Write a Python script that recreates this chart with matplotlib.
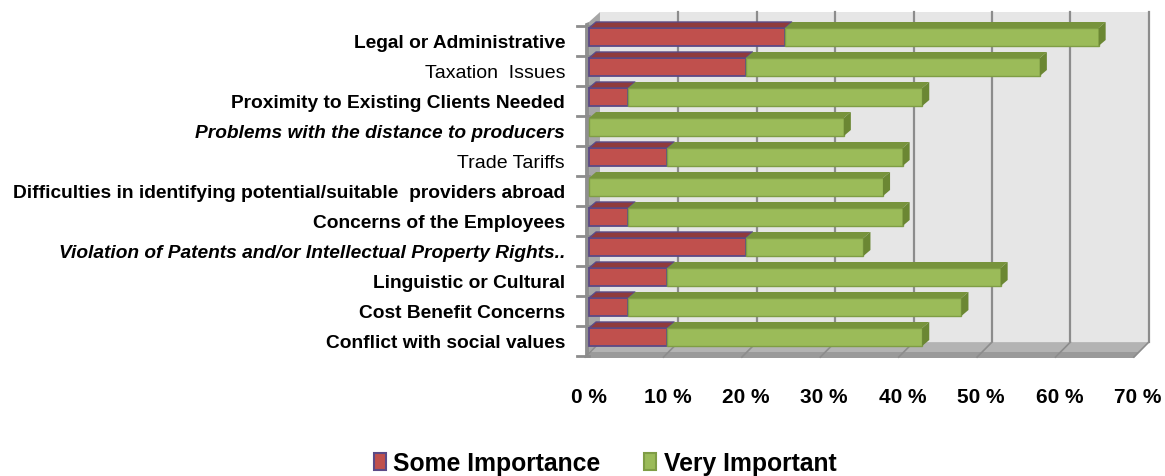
import matplotlib
matplotlib.use('Agg')
import matplotlib.pyplot as plt
from matplotlib.patches import Polygon, Patch

categories = ['Legal or Administrative', 'Taxation  Issues', 'Proximity to Existing Clients Needed',
              'Problems with the distance to producers', 'Trade Tariffs',
              'Difficulties in identifying potential/suitable  providers abroad',
              'Concerns of the Employees', 'Violation of Patents and/or Intellectual Property Rights..',
              'Linguistic or Cultural', 'Cost Benefit Concerns', 'Conflict with social values']
some_importance = [25, 20, 5, 0, 10, 0, 5, 20, 10, 5, 10]
very_important = [40, 37.5, 37.5, 32.5, 30, 37.5, 35, 15, 42.5, 42.5, 32.5]
xticks = [0, 10, 20, 30, 40, 50, 60, 70]
xticklabels = ['0 %', '10 %', '20 %', '30 %', '40 %', '50 %', '60 %', '70 %']

# labels that come out heavy / slanted
heavy = [0, 2, 3, 5, 6, 7, 8, 9, 10]
slanted = [3, 7]

W, H = 1165, 477
fig = plt.figure(figsize=(W / 100, H / 100), dpi=100)

# pixel mapping: x=0 at 589px, 7.84 px per %, row i centre at 38+30i px
px_per = 7.84
x0px, y0px, rowpx = 589, 38, 30
xl = (-2, 72)
yl = (10.9, -0.9)
left = (x0px + xl[0] * px_per) / W
right = (x0px + xl[1] * px_per) / W
top = (y0px + yl[1] * rowpx) / H
bot = (y0px + yl[0] * rowpx) / H
ax = fig.add_axes([left, 1 - bot, right - left, bot - top])
ax.set_xlim(*xl)
ax.set_ylim(*yl)
ax.axis('off')

n = len(categories)
wdx, wdy = 1.4, 0.33   # wall depth
bdx, bdy = 0.9, 0.2    # bar depth
ytop, ybot = -0.5, n - 0.5
xmax = xticks[-1]

# back wall
ax.add_patch(Polygon([(wdx, ytop - wdy), (xmax + wdx, ytop - wdy), (xmax + wdx, ybot - wdy), (wdx, ybot - wdy)],
                     closed=True, fc='#e6e6e6', ec='none', zorder=0))
for t in xticks[1:]:
    ax.plot([t + wdx, t + wdx], [ytop - wdy, ybot - wdy], color='#8c8c8c', lw=1.6, zorder=1)
# left wall
ax.add_patch(Polygon([(0, ytop), (wdx, ytop - wdy), (wdx, ybot - wdy), (0, ybot)],
                     closed=True, fc='#a6a6a6', ec='none', zorder=1))
ax.add_patch(Polygon([(-0.5, ytop + 0.05), (0, ytop), (0, ybot + 0.12), (-0.5, ybot + 0.15)],
                     closed=True, fc='#8f8f8f', ec='none', zorder=1))
# floor
ax.add_patch(Polygon([(0, ybot), (xmax, ybot), (xmax + wdx, ybot - wdy), (wdx, ybot - wdy)],
                     closed=True, fc='#b3b3b3', ec='none', zorder=1))
ax.add_patch(Polygon([(-0.5, ybot + 0.2), (xmax - 0.5, ybot + 0.2), (xmax + wdx, ybot - wdy),
                      (xmax, ybot), (0, ybot)],
                     closed=True, fc='#9a9a9a', ec='none', zorder=1))
for t in xticks:
    ax.plot([t - 0.5, t + wdx], [ybot + 0.17, ybot - wdy], color='#8c8c8c', lw=1.2, zorder=1)
# category ticks on the left wall
for i in range(n + 1):
    ax.plot([-1.5, 0], [i - 0.37, i - 0.37], color='#8c8c8c', lw=2, zorder=1, clip_on=False)

# bars
bh = 0.6
red, red_top, red_edge = '#c0504d', '#8f3b3c', '#5b4a86'
green, green_top, green_side, green_edge = '#9bbb59', '#77933c', '#6b8733', '#7f9d45'
for i in range(n):
    s, v = some_importance[i], very_important[i]
    yt, yb = i - bh / 2, i + bh / 2
    if s > 0:
        ax.barh(i, s, left=0, height=bh, color=red, edgecolor=red_edge, lw=1.3, zorder=3)
        ax.add_patch(Polygon([(0, yt), (s, yt), (s + bdx, yt - bdy), (bdx, yt - bdy)],
                             closed=True, fc=red_top, ec=red_edge, lw=1.0, zorder=3))
    ax.barh(i, v, left=s, height=bh, color=green, edgecolor=green_edge, lw=1.0, zorder=3)
    end = s + v
    ax.add_patch(Polygon([(s, yt), (end, yt), (end + bdx, yt - bdy), (s + bdx, yt - bdy)],
                         closed=True, fc=green_top, ec='none', zorder=3))
    ax.add_patch(Polygon([(end, yt), (end + bdx, yt - bdy), (end + bdx, yb - bdy), (end, yb)],
                         closed=True, fc=green_side, ec='none', zorder=3))

# category labels
for i, lab in enumerate(categories):
    if i in heavy:
        fam, wt, fs = ['Liberation Sans Narrow', 'Liberation Sans'], 'bold', 13.8
    else:
        fam, wt, fs = ['Liberation Sans'], 'normal', 14
    st = 'italic' if i in slanted else 'normal'
    ax.text(-3.05, i + 0.2, lab, ha='right', va='center', fontsize=fs, family=fam,
            fontweight=wt, style=st, color='black', clip_on=False)

# x tick labels
for t, lab in zip(xticks, xticklabels):
    ax.text(t, 11.97, lab, ha='center', va='center', fontsize=15, fontweight='bold',
            family='Liberation Sans', clip_on=False)

handles = [Patch(fc=red, ec=red_edge, lw=1.5, label='Some Importance'),
           Patch(fc=green, ec=green_edge, lw=1.5, label='Very Important')]
fig.legend(handles=handles, loc='center', bbox_to_anchor=(605 / W, 1 - 464 / H), ncol=2,
           frameon=False, handlelength=0.5, handleheight=0.7, handletextpad=0.3,
           columnspacing=1.75, prop={'family': 'Liberation Sans', 'weight': 'bold', 'size': 17.8})

fig.savefig('out.png', dpi=100)
